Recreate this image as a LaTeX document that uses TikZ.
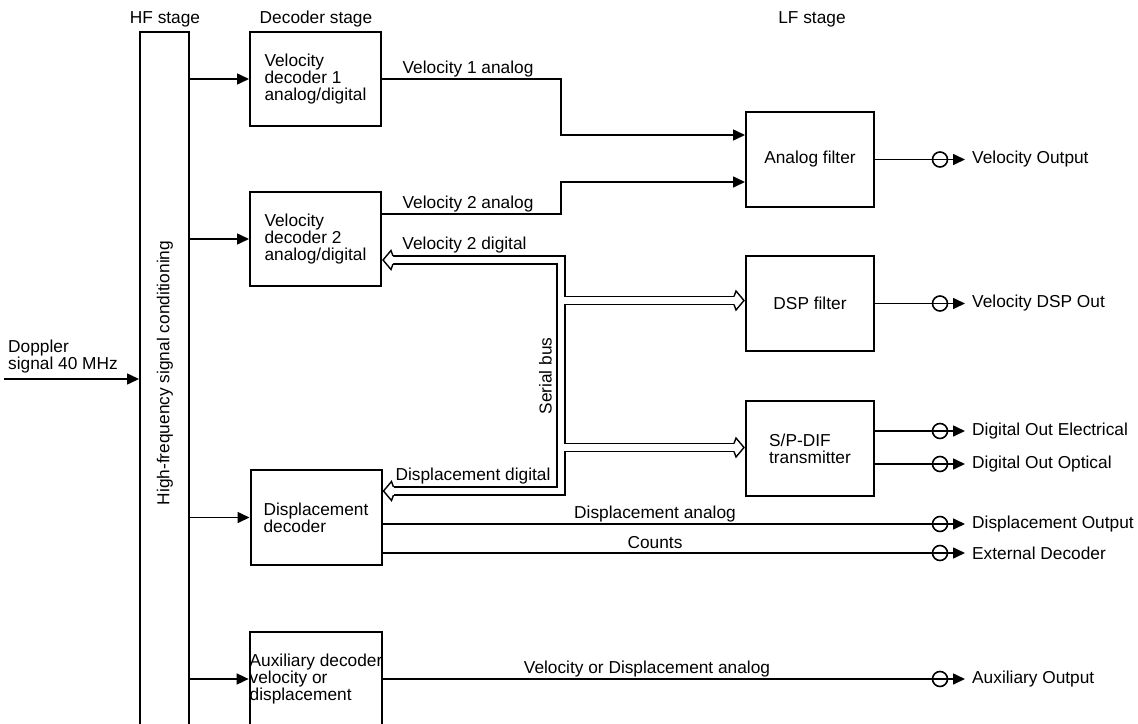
\documentclass[tikz,border=0pt]{standalone}
\usepackage{fontspec}
\setmainfont{Liberation Sans}
\usetikzlibrary{arrows.meta,calc}
\newcommand\dfont{\fontsize{17.3pt}{17pt}\selectfont}
\begin{document}
\begin{tikzpicture}[x=1pt,y=-1pt,
  every node/.style={font=\dfont, inner sep=0pt},
  blk/.style={draw, line width=2pt, rectangle, minimum width=131pt, minimum height=94pt, align=left},
  fblk/.style={draw, line width=2pt, rectangle, minimum width=128pt, minimum height=95pt, align=left},
  ln/.style={line width=1.6pt},
  arr/.style={ln, -{Triangle[length=12pt,width=11pt]}},
  oarr/.style={ln, -{Triangle[length=12pt,width=11pt]}, shorten >=3pt},
  bus/.style={line width=1.4pt, double, double distance=6.6pt},
  oc/.style={draw, circle, line width=1.6pt, minimum size=15pt},
  olbl/.style={anchor=west, inner sep=4pt},
  pics/busheadL/.style={code={\filldraw[fill=white, line width=1.4pt, line join=miter, miter limit=20] (11,-4) -- (9,-9.5) -- (1,0) -- (9,9.5) -- (11,4);}},
  pics/busheadR/.style={code={\filldraw[fill=white, line width=1.4pt, line join=miter, miter limit=20] (-11,-4) -- (-9,-9.5) -- (-1,0) -- (-9,9.5) -- (-11,4);}}
]
\useasboundingbox (0,0) rectangle (1138,723);
\fill[white] (0,0) rectangle (1138,723);
\clip (0,0) rectangle (1138,723);

% headers
\node (hfh) at (165,19.5) {HF stage};
\node (dsh) at (316,19) {Decoder stage};
\node (lfh) at (812,19) {LF stage};

% HF stage
\node[draw, line width=2pt, minimum width=49pt, minimum height=720pt] (hf) at (164.5,392) {};
\node[rotate=90] (hflbl) at (165,373) {High-frequency signal conditioning};

% decoder blocks
\node[blk] (vd1) at (315.5,79) {Velocity\\decoder 1\\analog/digital};
\node[blk] (vd2) at (315.5,239) {Velocity\\decoder 2\\analog/digital};
\node[blk, minimum height=95pt] (disp) at (316,517.5) {Displacement\\decoder};
\node[blk] (aux) at (316,679) {Auxiliary decoder\\velocity or\\displacement};

% LF blocks
\node[fblk] (af) at (810,159.5) {Analog filter};
\node[fblk] (dsp) at (810,303.5) {DSP filter};
\node[fblk] (spd) at (810,448.5) {S/P-DIF\\transmitter};

% Doppler input
\coordinate (din) at (4,379);
\node[anchor=west, align=left] (dop) at (8,356.5) {Doppler\\signal 40 MHz};
\draw[arr] (din) -- (hf.west |- din);

% HF to decoders
\draw[arr] (hf.east |- vd1.west) -- (vd1.west);
\draw[arr] (hf.east |- vd2.west) -- (vd2.west);
\draw[arr] (hf.east |- disp.west) -- (disp.west);
\draw[arr] (hf.east |- aux.west) -- (aux.west);

% velocity analog lines
\coordinate (v1a) at (561,79);
\coordinate (v1b) at (561,135);
\draw[arr] (vd1.east) -- (v1a) -- (v1b) -- (af.west |- v1b);
\coordinate (v2a) at (561,214);
\coordinate (v2b) at (561,182);
\draw[arr] (vd2.east |- v2a) -- (v2a) -- (v2b) -- (af.west |- v2b);
\node (l1) at (468,69) {Velocity 1 analog};
\node (l2) at (468,204) {Velocity 2 analog};

% serial bus
\coordinate (s1) at (561,260);
\coordinate (s2) at (561,491);
\coordinate (s3) at (564,300.5);
\coordinate (s4) at (564,447.5);
\draw[bus, shorten <=11pt, shorten >=11pt] (vd2.east |- s1) -- (s1) -- (s2) -- (disp.east |- s2);
\draw[bus, shorten >=11pt] (s3) -- (dsp.west |- s3);
\draw[bus, shorten >=11pt] (s4) -- (spd.west |- s4);
\pic at (vd2.east |- s1) {busheadL};
\pic at (disp.east |- s2) {busheadL};
\pic at (dsp.west |- s3) {busheadR};
\pic at (spd.west |- s4) {busheadR};
\node (l3) at (464.5,245.5) {Velocity 2 digital};
\node (l4) at (473,476.5) {Displacement digital};
\node[rotate=90] (l8) at (545.5,376) {Serial bus};

% displacement lines labels
\node (l5) at (655,514.5) {Displacement analog};
\node (l6) at (655,542.5) {Counts};
\node (l7) at (647,669.5) {Velocity or Displacement analog};

% outputs
\node[oc] (c1) at (940,159.5) {};
\node[olbl] (o1) at (968,159.5) {Velocity Output};
\draw[ln] (af.east) -- (c1.west);
\draw[oarr] (c1.west) -- (o1.west);

\node[oc] (c2) at (940,303.5) {};
\node[olbl] (o2) at (968,303.5) {Velocity DSP Out};
\draw[ln] (dsp.east) -- (c2.west);
\draw[oarr] (c2.west) -- (o2.west);

\node[oc] (c3) at (940,431) {};
\node[olbl] (o3) at (968,431) {Digital Out Electrical};
\draw[ln] (spd.east |- c3) -- (c3.west);
\draw[oarr] (c3.west) -- (o3.west);

\node[oc] (c4) at (940,464) {};
\node[olbl] (o4) at (968,464) {Digital Out Optical};
\draw[ln] (spd.east |- c4) -- (c4.west);
\draw[oarr] (c4.west) -- (o4.west);

\node[oc] (c5) at (940,524) {};
\node[olbl] (o5) at (968,524) {Displacement Output};
\draw[ln] (disp.east |- c5) -- (c5.west);
\draw[oarr] (c5.west) -- (o5.west);

\node[oc] (c6) at (940,553) {};
\node[olbl] (o6) at (968,553) {External Decoder};
\draw[ln] (disp.east |- c6) -- (c6.west);
\draw[oarr] (c6.west) -- (o6.west);

\node[oc] (c7) at (940,679) {};
\node[olbl] (o7) at (968,679) {Auxiliary Output};
\draw[line width=1.2pt] (aux.east |- c7) -- (c7.west);
\draw[oarr] (c7.west) -- (o7.west);
\end{tikzpicture}
\end{document}
